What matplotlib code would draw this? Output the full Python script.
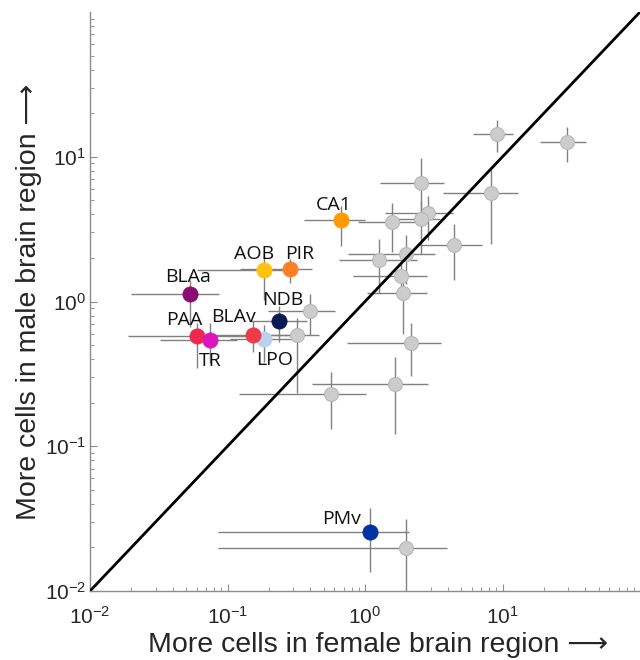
import matplotlib
matplotlib.use("Agg")
import matplotlib.pyplot as plt
import numpy as np
from matplotlib.ticker import LogLocator, NullFormatter

# regions without a label (grey)
grey_x = [9.12, 29.4, 2.55, 8.25, 2.87, 2.55, 1.57, 4.44, 1.99, 1.26,
          1.83, 1.89, 2.16, 1.65, 0.566, 0.398, 0.320, 1.99]
grey_y = [14.4, 12.7, 6.62, 5.65, 4.11, 3.74, 3.56, 2.47, 2.14, 1.95,
          1.49, 1.14, 0.513, 0.268, 0.228, 0.853, 0.591, 0.0198]
grey_x_lo = [6.1, 18.7, 1.285, 3.69, 1.40, 1.60, 0.889, 2.39, 0.751, 0.647,
             0.818, 1.03, 0.740, 0.412, 0.121, 0.197, 0.204, 0.0853]
grey_x_hi = [11.9, 40.5, 3.75, 12.97, 4.37, 3.51, 2.51, 7.09, 3.23, 2.39,
             2.82, 2.82, 3.57, 2.87, 1.02, 0.605, 0.463, 3.95]
grey_y_lo = [10.7, 9.24, 4.11, 2.51, 2.68, 2.14, 2.21, 1.40, 1.33, 1.15,
             1.19, 0.601, 0.304, 0.121, 0.131, 0.584, 0.232, 0.0095]
grey_y_hi = [18.0, 16.1, 9.84, 8.67, 5.38, 4.97, 4.82, 3.45, 2.90, 2.72,
             1.83, 1.40, 0.705, 0.411, 0.324, 1.12, 0.764, 0.0314]

# labelled regions
names = ["CA1", "AOB", "PIR", "BLAa", "NDB", "LPO", "BLAv", "PAA", "TR", "PMv"]
reg_x = [0.67, 0.184, 0.285, 0.0533, 0.237, 0.184, 0.153, 0.060, 0.0746, 1.087]
reg_y = [3.68, 1.66, 1.69, 1.12, 0.728, 0.547, 0.591, 0.574, 0.538, 0.0255]
reg_x_lo = [0.36, 0.060, 0.123, 0.0199, 0.146, 0.104, 0.081, 0.0189, 0.0323, 0.0853]
reg_x_hi = [1.0, 0.285, 0.412, 0.0867, 0.378, 0.336, 0.336, 0.178, 0.117, 2.09]
reg_y_lo = [2.43, 1.02, 1.35, 0.662, 0.521, 0.379, 0.445, 0.345, 0.373, 0.0135]
reg_y_hi = [4.6, 2.08, 1.98, 1.40, 0.938, 0.683, 0.739, 0.716, 0.716, 0.0373]

colors = ["#ff9a00", "#ffc20e", "#ff7f27", "#8b0a73", "#0b1a55",
          "#b9d3ee", "#ef3a47", "#f0284f", "#d916be", "#0033a0"]
# label offsets in pixels (dx, dy)
offsets = [(-7, 15), (-10, 16), (10, 15), (-2, 17), (4, 21),
           (11, -21), (-19, 18), (-13, 16), (0, -21), (-28, 13)]

fig = plt.figure(figsize=(6.4, 6.6), dpi=100)
ax = fig.add_axes([90 / 640, 69 / 660, 550 / 640, 579 / 660])
ax.set_xscale("log")
ax.set_yscale("log")

bar_kw = dict(fmt="none", ecolor="#808080", elinewidth=1.0, capsize=0, zorder=2)

gx = np.array(grey_x)
gy = np.array(grey_y)
ax.errorbar(gx, gy,
            xerr=[gx - np.array(grey_x_lo), np.array(grey_x_hi) - gx],
            yerr=[gy - np.array(grey_y_lo), np.array(grey_y_hi) - gy], **bar_kw)
rx = np.array(reg_x)
ry = np.array(reg_y)
ax.errorbar(rx, ry,
            xerr=[rx - np.array(reg_x_lo), np.array(reg_x_hi) - rx],
            yerr=[ry - np.array(reg_y_lo), np.array(reg_y_hi) - ry], **bar_kw)

ax.plot(gx, gy, "o", ms=10, mfc="#cccccc", mec="#b8b8b8", mew=0.8, zorder=3)

ax.plot([1e-2, 1e2], [1e-2, 1e2], color="black", lw=2, zorder=4)

for i, name in enumerate(names):
    ax.plot(reg_x[i], reg_y[i], "o", ms=11, mfc=colors[i], mec=colors[i],
            mew=0.5, zorder=5)
    ax.annotate(name, (reg_x[i], reg_y[i]), xytext=offsets[i],
                textcoords="offset pixels", ha="center", va="center",
                fontsize=14, family="Open Sans", color="#111111", zorder=6)

ax.set_xlim(1e-2, 1e2)
ax.set_ylim(1e-2, 1e2)
ax.set_xticks([1e-2, 1e-1, 1e0, 1e1])
ax.set_yticks([1e-2, 1e-1, 1e0, 1e1])
for axis in (ax.xaxis, ax.yaxis):
    axis.set_minor_locator(LogLocator(base=10, subs=np.arange(2, 10)))
    axis.set_minor_formatter(NullFormatter())

for s in ("top", "right"):
    ax.spines[s].set_visible(False)
for s in ("left", "bottom"):
    ax.spines[s].set_color("#8c8c8c")
    ax.spines[s].set_linewidth(1.0)

ax.tick_params(which="both", direction="in", color="#8c8c8c",
               labelcolor="#262626", labelsize=15)
ax.tick_params(axis="both", which="major", length=5)
ax.tick_params(axis="both", which="minor", length=3)
ax.tick_params(axis="x", which="major", pad=11)
ax.tick_params(axis="y", which="major", pad=3)
for lab in ax.get_xticklabels() + ax.get_yticklabels():
    lab.set_family(["Liberation Sans", "DejaVu Sans"])

lab_font = dict(fontsize=20.5, color="#262626", family=["Liberation Sans", "DejaVu Sans"])
ax.set_xlabel("More cells in female brain region \u27f6", **lab_font)
ax.set_ylabel("More cells in male brain region \u27f6", **lab_font)
ax.xaxis.set_label_coords((378 - 90) / 550, -0.07)
ax.yaxis.set_label_coords(-0.088, 0.5)

fig.savefig("out.png", dpi=100)
